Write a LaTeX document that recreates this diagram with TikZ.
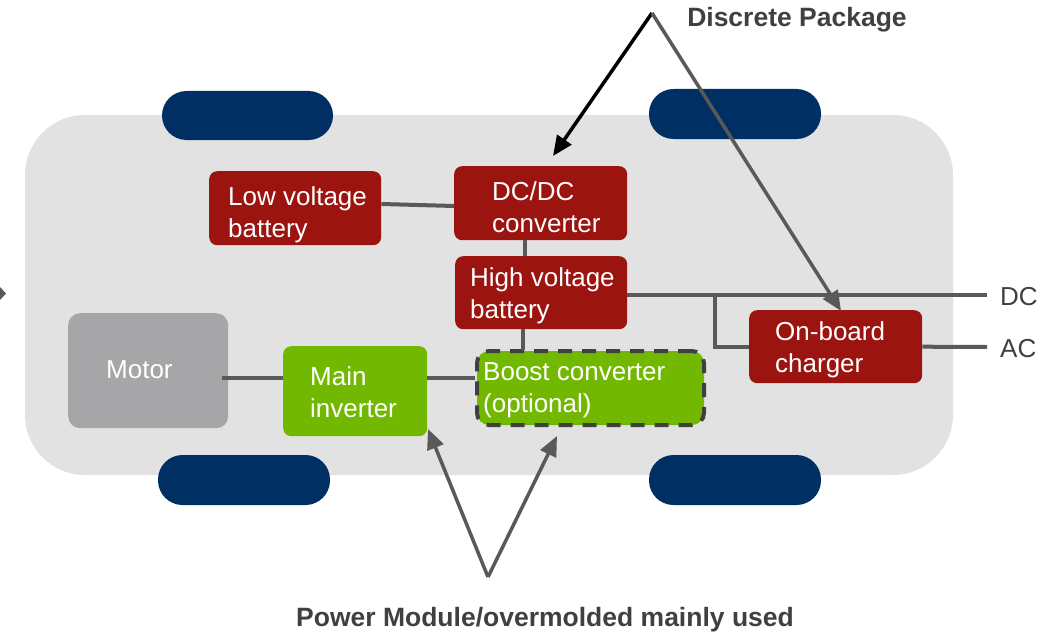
\documentclass[tikz,border=0pt]{standalone}
\usepackage{fontspec}
\setmainfont{Liberation Sans}
\usetikzlibrary{arrows.meta}
\definecolor{bodygray}{HTML}{E2E2E2}
\definecolor{navy}{HTML}{003063}
\definecolor{dred}{HTML}{9C1410}
\definecolor{lgreen}{HTML}{72B800}
\definecolor{mgray}{HTML}{A6A6A8}
\definecolor{lgray}{HTML}{595959}
\definecolor{tgray}{HTML}{404040}
\begin{document}
\begin{tikzpicture}[x=1pt,y=-1pt,
  box/.style={anchor=north west, inner sep=0pt, rounded corners=8pt, draw=none},
  redbox/.style={box, fill=dred},
  greenbox/.style={box, fill=lgreen},
  wheel/.style={fill=navy, rounded corners=24.5pt},
  txt/.style={anchor=west, align=left, inner sep=0pt, text=white, font=\fontsize{26}{32}\selectfont},
  outtxt/.style={anchor=west, inner sep=0pt, text=tgray, font=\fontsize{26}{32}\selectfont},
  boldtxt/.style={inner sep=0pt, text=tgray, font=\fontsize{26.5}{30}\selectfont\bfseries},
  conn/.style={draw=lgray, line width=4pt},
  garrow/.style={draw=lgray, line width=3.5pt, -{Triangle[length=20pt,width=17pt]}},
  barrow/.style={draw=black, line width=3.5pt, -{Triangle[length=20pt,width=17pt]}}
]
\useasboundingbox (0,0) rectangle (1061,634);
% car body
\fill[bodygray, rounded corners=60pt] (25,115) rectangle (953,475);
% wheels
\fill[wheel] (162,91) rectangle (333,140);
\fill[wheel] (649,89) rectangle (821,139);
\fill[wheel] (158,455) rectangle (330,505);
\fill[wheel] (649,455) rectangle (821,505);
% small cut-off marker at left edge
\fill[lgray] (0,287) -- (6,293.5) -- (0,300) -- cycle;

% boxes
\node[redbox, minimum width=172pt, minimum height=74pt] (lv) at (209,171) {};
\node[redbox, minimum width=173pt, minimum height=74pt] (dcdc) at (454,166) {};
\node[redbox, minimum width=172pt, minimum height=73pt] (hv) at (455,256) {};
\node[box, fill=mgray, rounded corners=12pt, minimum width=160pt, minimum height=115pt] (motor) at (68,313) {};
\node[greenbox, minimum width=144pt, minimum height=90pt] (inv) at (283,346) {};
\node[greenbox, minimum width=227pt, minimum height=74pt, rounded corners=12pt, draw=tgray, line width=4pt, dash pattern=on 14pt off 10pt] (boost) at (475,349) {};
\node[redbox, minimum width=173pt, minimum height=73pt] (chg) at (749,310) {};

% texts
\node[txt] (lvt) at ([xshift=19pt,yshift=-7pt]lv.west) {Low voltage\\battery};
\node[txt] (dcdct) at ([xshift=38pt,yshift=-4pt]dcdc.west) {DC/DC\\converter};
\node[txt] (hvt) at ([xshift=15pt,yshift=-3pt]hv.west) {High voltage\\battery};
\node[txt] (motort) at ([xshift=38pt,yshift=1pt]motor.west) {Motor};
\node[txt] (invt) at ([xshift=27pt,yshift=-1pt]inv.west) {Main\\inverter};
\node[txt] (boostt) at ([xshift=8pt,yshift=-2pt]boost.west) {Boost converter\\(optional)};
\node[txt] (chgt) at ([xshift=26pt,yshift=-3pt]chg.west) {On-board\\charger};

% connectors
\coordinate (dcend) at (987,295);
\coordinate (acend) at (987,347);
\coordinate (br) at (715,295);
\draw[conn] (lv.east |- 0,204) -- (dcdc.west |- 0,206);
\draw[conn] (dcdc.south -| 525,0) -- (hv.north -| 525,0);
\draw[conn] (523,329) -- (523,350);
\draw[conn] (hv.east |- dcend) -- (dcend);
\draw[conn] (br) |- (chg.west);
\draw[conn] (chg.east) -- (acend);
\draw[conn] (222,378) -- (inv.west |- 0,378);
\draw[conn] (inv.east |- 0,378) -- (boost.west |- 0,378);

\node[outtxt] (dc) at (1000,297) {DC};
\node[outtxt] (ac) at (1000,349) {AC};

% labels and arrows
\node[boldtxt] (dp) at (797,20) {Discrete Package};
\node[boldtxt] (pm) at (545,620) {Power Module/overmolded mainly used};
\coordinate (dpa) at (652,13);
\coordinate (dpt1) at (553,156);
\coordinate (dpt2) at (841,311);
\draw[barrow] (dpa) -- (dpt1);
\draw[garrow] (dpa) -- (dpt2);
\coordinate (pma) at (488,577);
\coordinate (pmt1) at (428,429);
\coordinate (pmt2) at (557,436);
\draw[garrow] (pma) -- (pmt1);
\draw[garrow] (pma) -- (pmt2);
\end{tikzpicture}
\end{document}
